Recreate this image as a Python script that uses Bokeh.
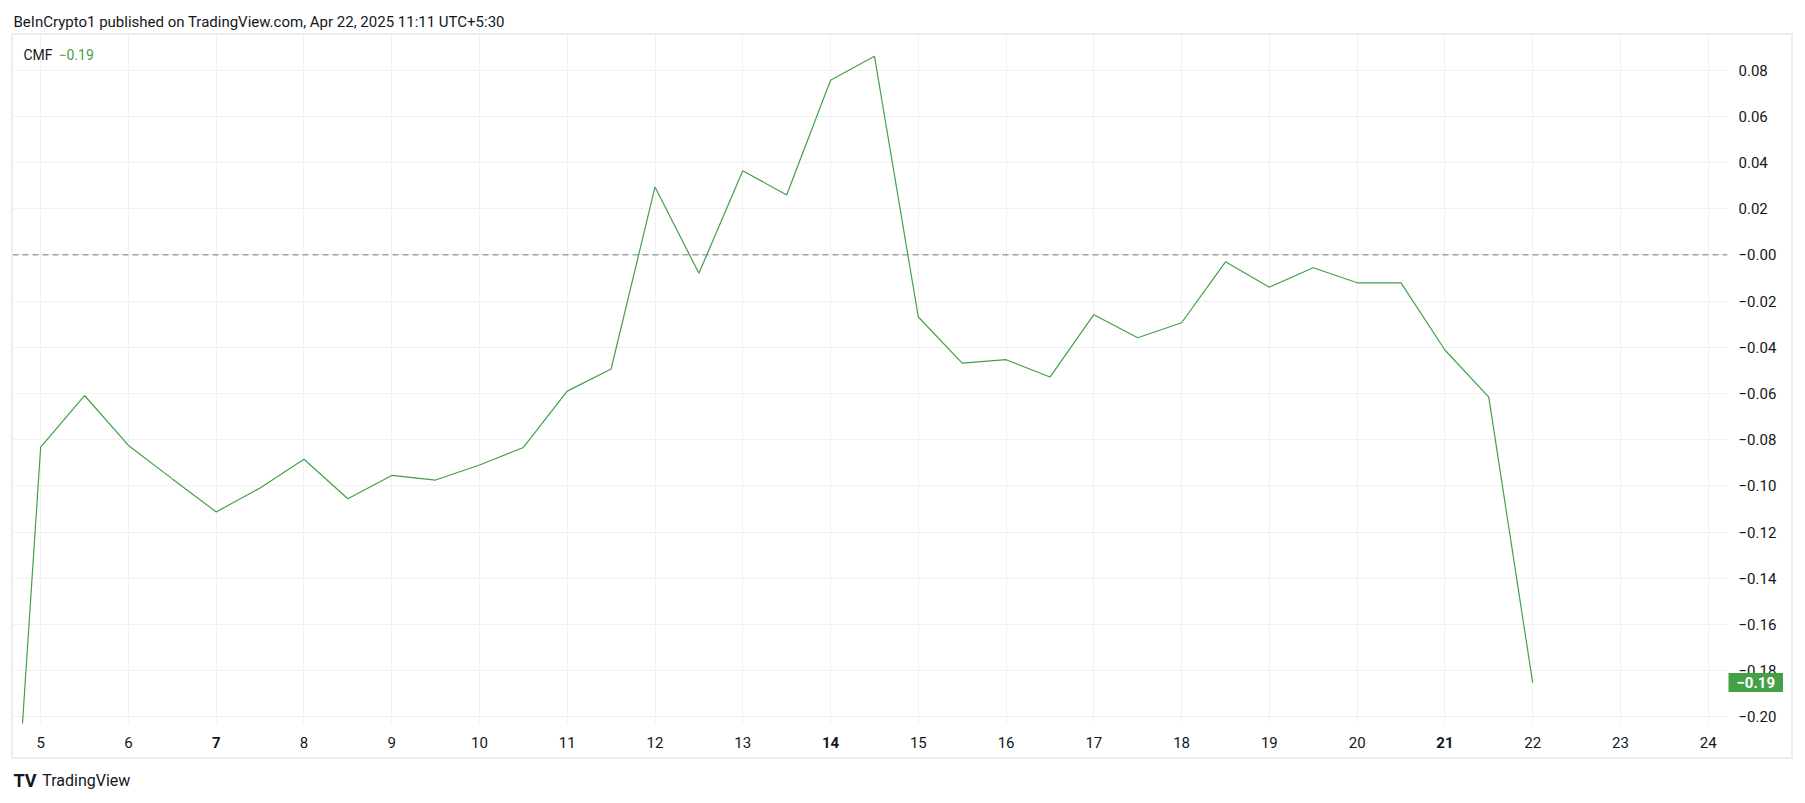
from bokeh.plotting import figure
from bokeh.models import (Range1d, FixedTicker, Span, Label, LinearAxis,
                          InlineStyleSheet)
from bokeh.embed import file_html
from bokeh.resources import INLINE

# ---------------- data ----------------
days = [4.5, 5.0, 5.5, 6.0, 6.5, 7.0, 7.5, 8.0, 8.5, 9.0, 9.5, 10.0,
        10.5, 11.0, 11.5, 12.0, 12.5, 13.0, 13.5, 14.0, 14.5, 15.0,
        15.5, 16.0, 16.5, 17.0, 17.5, 18.0, 18.5, 19.0, 19.5, 20.0,
        20.5, 21.0, 21.5, 22.0]
cmf = [-0.372, -0.0832, -0.0609, -0.0825, -0.0970, -0.1113, -0.1009,
       -0.0885, -0.1056, -0.0955, -0.0975, -0.0910, -0.0834, -0.0590,
       -0.0494, 0.0294, -0.0080, 0.0364, 0.0259, 0.0756, 0.0860,
       -0.0269, -0.0469, -0.0454, -0.0529, -0.0259, -0.0359, -0.0294,
       -0.0030, -0.0140, -0.0056, -0.0121, -0.0121, -0.0412, -0.0616,
       -0.1852]

x_ticks = [5, 6, 7, 8, 9, 10, 11, 12, 13, 14, 15, 16, 17, 18, 19, 20,
           21, 22, 23, 24]
x_bold_ticks = [7, 14, 21]

y_ticks = [0.08, 0.06, 0.04, 0.02, 0.0, -0.02, -0.04, -0.06, -0.08,
           -0.10, -0.12, -0.14, -0.16, -0.18, -0.20]
y_labels = ["0.08", "0.06", "0.04", "0.02", "\u22120.00", "\u22120.02",
            "\u22120.04", "\u22120.06", "\u22120.08", "\u22120.10",
            "\u22120.12", "\u22120.14", "\u22120.16", "\u22120.18",
            "\u22120.20"]

indicator_name = "CMF"
last_label = "\u22120.19"
header_text = "BeInCrypto1 published on TradingView.com, Apr 22, 2025 11:11 UTC+5:30"
footer_text = "TradingView"
logo_text = "TV"

# ---------------- style ----------------
GREEN = "#43a047"
TEXT = "#131722"
GRID = "#f0f1f4"
BORDER = "#eceef2"
FONT = "Roboto"

X0, X1 = 4.679, 24.22
Y0, Y1 = -0.2029, 0.0954
FW, FH = 1715, 689
BL, BT, BR, BB = 12, 34, 62, 72
W, H = BL + FW + BR, BT + FH + BB
DX = (X1 - X0) / FW      # data units per pixel
DY = (Y1 - Y0) / FH
TAG_W = 54               # approx. width of the price tag panel

border_css = InlineStyleSheet(css="""
:host { position: relative; }
:host::after {
  content: ""; position: absolute; pointer-events: none;
  left: 11px; top: 33px; width: 1782px; height: 726px;
  box-sizing: border-box; border: 2px solid %s;
}
""" % BORDER)

p = figure(width=W, height=H,
           x_range=Range1d(X0, X1), y_range=Range1d(Y0, Y1),
           output_backend="svg", toolbar_location=None,
           y_axis_location="right",
           min_border_left=BL, min_border_top=BT,
           min_border_right=BR, min_border_bottom=BB,
           stylesheets=[border_css])
p.outline_line_color = None
p.background_fill_color = "white"
p.border_fill_color = "white"

# header (plot title)
p.title.text = header_text
p.title.align = "left"
p.title.offset = 1
p.title.standoff = 7
p.title.text_font = FONT
p.title.text_font_size = "15px"
p.title.text_font_style = "normal"
p.title.text_color = TEXT

# ---- right side: price tag first (next to frame), then the price axis
tag = Label(x=X1 + DX, y=cmf[-1], text=last_label,
            text_align="left", text_baseline="middle",
            text_font=FONT, text_font_size="15px", text_font_style="bold",
            text_color="white", background_fill_color=GREEN,
            padding=(8, 4))
yaxis = p.yaxis[0]
p.right.remove(yaxis)
p.add_layout(tag, "right")
p.add_layout(yaxis, "right")

yaxis.ticker = FixedTicker(ticks=y_ticks)
yaxis.major_label_overrides = dict(zip(y_ticks, y_labels))
yaxis.axis_line_color = None
yaxis.major_tick_line_color = None
yaxis.minor_tick_line_color = None
yaxis.major_tick_out = 0
yaxis.major_label_standoff = 11 - TAG_W
yaxis.major_label_text_font = FONT
yaxis.major_label_text_font_size = "15px"
yaxis.major_label_text_color = TEXT

# ---- bottom: regular day labels, bold week-start labels, footer
p.xaxis.ticker = FixedTicker(ticks=x_ticks)
p.xaxis.major_label_overrides = {t: "" for t in x_bold_ticks}
p.xaxis.axis_line_color = None
p.xaxis.major_tick_line_color = None
p.xaxis.minor_tick_line_color = None
p.xaxis.major_tick_out = 0
p.xaxis.major_label_standoff = 13
p.xaxis.major_label_text_font = FONT
p.xaxis.major_label_text_font_size = "15px"
p.xaxis.major_label_text_color = TEXT

bold_axis = LinearAxis(ticker=FixedTicker(ticks=x_bold_ticks),
                       axis_line_color=None, major_tick_line_color=None,
                       minor_tick_line_color=None, major_tick_out=0,
                       major_label_standoff=-14,
                       major_label_text_font=FONT,
                       major_label_text_font_size="15px",
                       major_label_text_font_style="bold",
                       major_label_text_color=TEXT)
p.add_layout(bold_axis, "below")

p.add_layout(Label(x=X0 + 29.7 * DX, y=Y0 - 57 * DY, text=footer_text,
                   text_baseline="middle", text_font=FONT,
                   text_font_size="16px", text_color=TEXT), "below")
p.add_layout(Label(x=X0 + 1 * DX, y=Y0 - 57 * DY, text=logo_text,
                   text_baseline="middle", text_font=FONT,
                   text_font_size="18px", text_font_style="bold",
                   text_color=TEXT), "below")

# grids
p.xgrid.ticker = FixedTicker(ticks=x_ticks)
p.ygrid.ticker = FixedTicker(ticks=y_ticks)
p.xgrid.grid_line_color = GRID
p.ygrid.grid_line_color = GRID

# zero line
p.add_layout(Span(location=0, dimension="width", line_color="#787b86",
                  line_dash="6 4", line_width=1))

# CMF line
p.line(days, cmf, line_color=GREEN, line_width=1.2)

# legend (inside the frame)
p.add_layout(Label(x=X0 + 11 * DX, y=Y1 - 20 * DY, text=indicator_name,
                   text_baseline="middle", text_font=FONT,
                   text_font_size="14px", text_color=TEXT))
p.add_layout(Label(x=X0 + 46 * DX, y=Y1 - 20 * DY, text=last_label,
                   text_baseline="middle", text_font=FONT,
                   text_font_size="14px", text_color=GREEN))

open("out.html", "w").write(file_html(p, INLINE))
